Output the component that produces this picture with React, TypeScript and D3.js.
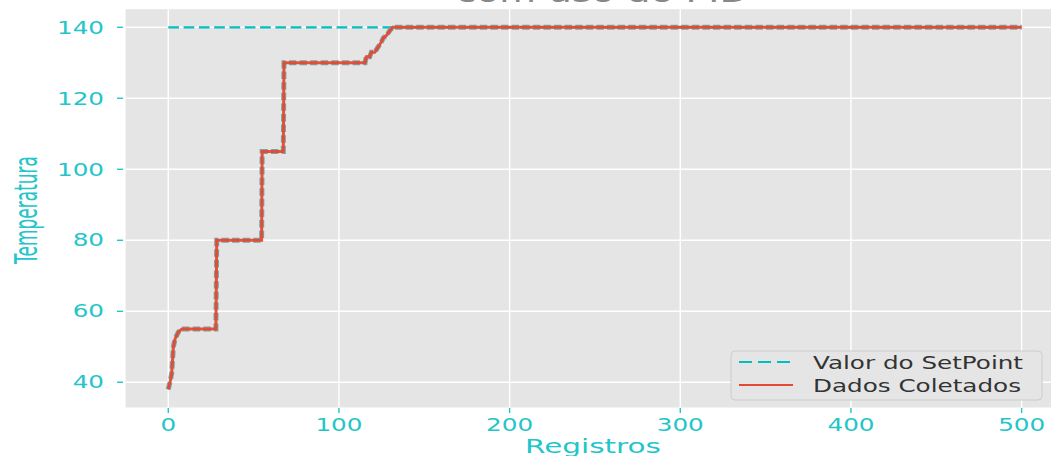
import React from "react";
import * as d3 from "d3";

const registros = [0, 1, 2, 3, 4, 6, 8, 27.9, 28.4, 54.7, 55, 67.4, 67.8, 115.3, 116, 118, 119, 121, 123, 125, 126, 128, 130, 131.5, 500];
const temperaturas = [38, 40, 42.5, 50, 52.3, 54.2, 55, 55, 80, 80, 105, 105, 130, 130, 131.7, 131.7, 133, 133, 134.5, 136, 137, 137.8, 139.2, 140, 140];
const setpointX = [0, 500];
const setpointY = [140, 140];
const xTicks = [0, 100, 200, 300, 400, 500];
const yTicks = [40, 60, 80, 100, 120, 140];
const tituloTexto = "com uso do PID";
const xLabelTexto = "Registros";
const yLabelTexto = "Temperatura";
const legendLabels = ["Valor do SetPoint", "Dados Coletados"];

const W = 1051;
const H = 456;
const SX = 1.45;
const TEAL = "#22c5c9";
const FONT = "DejaVu Sans, sans-serif";

export default function App() {
  const x = d3.scaleLinear().domain([-25, 525]).range([125.6, 1064.3]);
  const y = d3.scaleLinear().domain([32.9, 145.1]).range([407.5, 9.2]);
  const [x0, x1] = x.range();
  const [yb, yt] = y.range();

  const dataPts: [number, number][] = registros.map((r, i) => [r, temperaturas[i]]);
  const spPts: [number, number][] = setpointX.map((r, i) => [r, setpointY[i]]);
  const line = d3.line<[number, number]>().x((d) => x(d[0])).y((d) => y(d[1]));

  const lgX = 731, lgY = 351, lgW = 311, lgH = 49;

  return (
    <svg width={W} height={H} style={{ position: "absolute", left: 0, top: 0, background: "#fff" }} fontFamily={FONT}>
      <text transform={`translate(602,1.5) scale(${SX},1)`} textAnchor="middle" fontSize={26} fill="#888">{tituloTexto}</text>
      <rect x={x0} y={yt} width={x1 - x0} height={yb - yt} fill="#E5E5E5" />
      {xTicks.map((t) => (
        <line key={"gx" + t} x1={x(t)} x2={x(t)} y1={yt} y2={yb} stroke="#fff" strokeWidth={1.4} />
      ))}
      {yTicks.map((t) => (
        <line key={"gy" + t} x1={x0} x2={x1} y1={y(t)} y2={y(t)} stroke="#fff" strokeWidth={1.4} />
      ))}
      <path d={line(spPts) || ""} fill="none" stroke="#00BFBF" strokeWidth={2.2} strokeDasharray="10.7,4.6" />
      <path d={line(dataPts) || ""} fill="none" stroke="#7fa3a3" strokeWidth={5} strokeDasharray="7.4,3.2" />
      <path d={line(dataPts) || ""} fill="none" stroke="#E24A33" strokeWidth={3} strokeOpacity={0.95} />
      {xTicks.map((t) => (
        <g key={"xt" + t}>
          <line x1={x(t)} x2={x(t)} y1={408} y2={413} stroke={TEAL} strokeWidth={1.4} />
          <text transform={`translate(${x(t)},430.5) scale(${SX},1)`} textAnchor="middle" fontSize={17} fill={TEAL}>{t}</text>
        </g>
      ))}
      {yTicks.map((t) => (
        <g key={"yt" + t}>
          <line x1={117} x2={123} y1={y(t)} y2={y(t)} stroke={TEAL} strokeWidth={1.4} />
          <text transform={`translate(104,${y(t) + 6.2}) scale(${SX},1)`} textAnchor="end" fontSize={17} fill={TEAL}>{t}</text>
        </g>
      ))}
      <text transform={`translate(593,453.3) scale(1.55,1)`} textAnchor="middle" fontSize={19} fill={TEAL}>{xLabelTexto}</text>
      <text transform={`translate(37,210) scale(1.9,1) rotate(-90)`} textAnchor="middle" fontSize={17} fill={TEAL}>{yLabelTexto}</text>
      <rect x={lgX} y={lgY} width={lgW} height={lgH} rx={4} fill="#E5E5E5" stroke="#cccccc" strokeWidth={1} />
      <line x1={739} x2={793} y1={362} y2={362} stroke="#00BFBF" strokeWidth={2.2} strokeDasharray="13,6" />
      <line x1={739} x2={793} y1={385} y2={385} stroke="#E24A33" strokeWidth={2.2} />
      {legendLabels.map((l, i) => (
        <text key={l} transform={`translate(813,${368.5 + i * 23}) scale(${SX},1)`} fontSize={17} fill="#333">{l}</text>
      ))}
    </svg>
  );
}
